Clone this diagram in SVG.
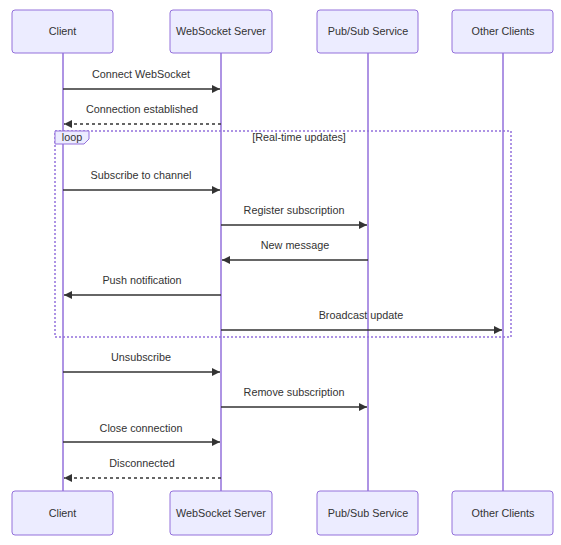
<svg xmlns="http://www.w3.org/2000/svg" width="561" height="545" viewBox="0 0 561 545">
<style>
.actor{fill:#ECECFF;stroke:#9370DB;stroke-width:1}
.life{stroke:#9370DB;stroke-width:1.5}
.txt{font-family:"Trebuchet MS","Liberation Sans",Arial,sans-serif;font-size:10.8px;fill:#333;text-anchor:middle;dominant-baseline:middle}
.msg{stroke:#333;stroke-width:1.5;fill:none}
.dash{stroke-dasharray:3,3}
.loop{fill:none;stroke:#9370DB;stroke-width:1.5;stroke-dasharray:2,2}
</style>
<defs>
<marker id="ah" viewBox="0 0 10 10" refX="10" refY="5" markerWidth="8" markerHeight="8" markerUnits="userSpaceOnUse" orient="auto"><path d="M0,0 L10,5 L0,10 z" fill="#333"/></marker>
</defs>
<g id="lifelines">
<line class="life" x1="63" y1="53" x2="63" y2="491"/>
<line class="life" x1="221" y1="53" x2="221" y2="491"/>
<line class="life" x1="368" y1="53" x2="368" y2="491"/>
<line class="life" x1="503" y1="53" x2="503" y2="491"/>
</g>
<g id="loop-frame">
<rect class="loop" x="55" y="131" width="456" height="206"/>
<polygon points="55,131 89,131 89,139 84,144 55,144" fill="#ECECFF" stroke="#9370DB" stroke-width="1"/>
<text class="txt" x="72" y="138.5">loop</text>
<text class="txt" x="299" y="138.5">[Real-time updates]</text>
</g>
<g id="actor-client-top"><rect class="actor" x="12" y="10" width="101" height="43" rx="3"/><text class="txt" x="62.5" y="32.5">Client</text></g>
<g id="actor-server-top"><rect class="actor" x="170" y="10" width="102" height="43" rx="3"/><text class="txt" x="221" y="32.5">WebSocket Server</text></g>
<g id="actor-pubsub-top"><rect class="actor" x="317" y="10" width="101" height="43" rx="3"/><text class="txt" x="368" y="32.5">Pub/Sub Service</text></g>
<g id="actor-others-top"><rect class="actor" x="452" y="10" width="101" height="43" rx="3"/><text class="txt" x="503" y="32.5">Other Clients</text></g>
<g id="actor-client-bottom"><rect class="actor" x="12" y="491" width="101" height="44" rx="3"/><text class="txt" x="62.5" y="514.5">Client</text></g>
<g id="actor-server-bottom"><rect class="actor" x="170" y="491" width="102" height="44" rx="3"/><text class="txt" x="221" y="514.5">WebSocket Server</text></g>
<g id="actor-pubsub-bottom"><rect class="actor" x="317" y="491" width="101" height="44" rx="3"/><text class="txt" x="368" y="514.5">Pub/Sub Service</text></g>
<g id="actor-others-bottom"><rect class="actor" x="452" y="491" width="101" height="44" rx="3"/><text class="txt" x="503" y="514.5">Other Clients</text></g>
<g id="connectors">
<line class="msg" x1="63" y1="89" x2="220" y2="89" marker-end="url(#ah)"/>
<text class="txt" x="141" y="75">Connect WebSocket</text>
<line class="msg dash" x1="221" y1="124" x2="64" y2="124" marker-end="url(#ah)"/>
<text class="txt" x="142" y="110">Connection established</text>
<line class="msg" x1="63" y1="190" x2="220" y2="190" marker-end="url(#ah)"/>
<text class="txt" x="141" y="176">Subscribe to channel</text>
<line class="msg" x1="221" y1="225" x2="367" y2="225" marker-end="url(#ah)"/>
<text class="txt" x="294" y="211">Register subscription</text>
<line class="msg" x1="368" y1="260" x2="222" y2="260" marker-end="url(#ah)"/>
<text class="txt" x="295" y="246">New message</text>
<line class="msg" x1="221" y1="295" x2="64" y2="295" marker-end="url(#ah)"/>
<text class="txt" x="142" y="281">Push notification</text>
<line class="msg" x1="221" y1="330" x2="502" y2="330" marker-end="url(#ah)"/>
<text class="txt" x="361" y="316">Broadcast update</text>
<line class="msg" x1="63" y1="372" x2="220" y2="372" marker-end="url(#ah)"/>
<text class="txt" x="141" y="358">Unsubscribe</text>
<line class="msg" x1="221" y1="407" x2="367" y2="407" marker-end="url(#ah)"/>
<text class="txt" x="294" y="393">Remove subscription</text>
<line class="msg" x1="63" y1="442" x2="220" y2="442" marker-end="url(#ah)"/>
<text class="txt" x="141" y="429">Close connection</text>
<line class="msg dash" x1="221" y1="478" x2="64" y2="478" marker-end="url(#ah)"/>
<text class="txt" x="142" y="464">Disconnected</text>
</g>
</svg>
